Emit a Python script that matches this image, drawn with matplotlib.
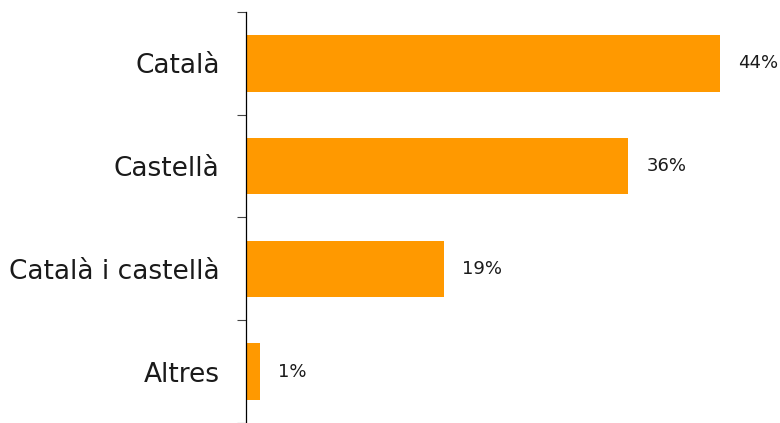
import matplotlib
matplotlib.use("Agg")
import matplotlib.pyplot as plt

categories = ["Català", "Castellà", "Català i castellà", "Altres"]
values = [44.0, 35.5, 18.4, 1.3]
labels = ["44%", "36%", "19%", "1%"]

bar_color = "#FF9900"

plt.rcParams['font.family'] = ['DejaVu Sans']

fig = plt.figure(figsize=(7.8, 4.23), dpi=100)
ax = fig.add_axes([246 / 780, 0.0, 1 - 246 / 780, 1 - 12 / 423])

y = list(range(len(categories)))
ax.barh(y, values, height=0.55, color=bar_color)
for yi, v, lab in zip(y, values, labels):
    ax.annotate(lab, (v, yi), textcoords="offset points", xytext=(13, 0),
                ha='left', va='center', fontsize=13, color="#1a1a1a")

ax.set_ylim(len(categories) - 0.5, -0.5)
ax.set_xlim(0, 534 / 474 * 44)

ax.set_yticks(y)
ax.set_yticklabels(categories, fontsize=19, color="#1a1a1a")
ax.set_yticks([i - 0.5 for i in range(len(categories) + 1)], minor=True)
ax.tick_params(axis='y', which='major', length=0, pad=19)
ax.tick_params(axis='y', which='minor', length=6.5, width=0.8, color="#444444")
ax.set_xticks([])
for s in ['top', 'right', 'bottom']:
    ax.spines[s].set_visible(False)
ax.spines['left'].set_color("#000000")
ax.spines['left'].set_linewidth(0.9)

fig.savefig("out.png", dpi=100)
